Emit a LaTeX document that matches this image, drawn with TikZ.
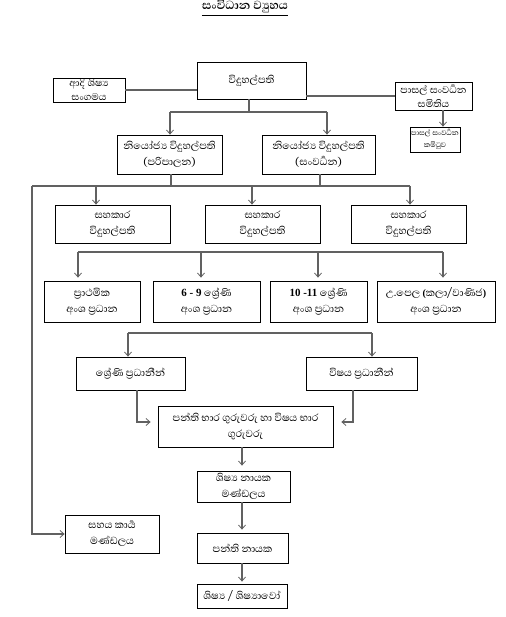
\documentclass[tikz,border=0pt]{standalone}
\usepackage{fontspec}
\setmainfont{Liberation Serif}
\newfontfamily\sinhalafont[Script=Sinhala]{Abhaya Libre}
\usetikzlibrary{arrows.meta}
\begin{document}
\begin{tikzpicture}[x=1pt,y=-1pt,
  box/.style={draw=black,line width=0.8pt,align=center,inner sep=0pt,
    font=\sinhalafont\fontsize{13}{16}\selectfont},
  small/.style={box,font=\sinhalafont\fontsize{12.5}{14}\selectfont},
  tiny/.style={box,font=\sinhalafont\fontsize{9}{12}\selectfont},
  conn/.style={draw=black!62,line width=1.1pt},
  arr/.style={conn,-{Straight Barb[length=4pt,width=7pt,line width=0.8pt]}}]
\useasboundingbox (0,0) rectangle (505,617);

\node[font=\sinhalafont\bfseries\fontsize{15}{17}\selectfont,anchor=base,inner sep=0pt] (title) at (245,10) {\underline{සංවිධාන ව්^^^^200dයුහය}};

\node[box,minimum width=109pt,minimum height=37pt] (P) at (251.5,80.5) {විදුහල්පති};
\node[small,minimum width=72pt,minimum height=24pt] (alu) at (89,90) {ආදි ශිෂ්^^^^200dය\\සංගමය};
\node[small,minimum width=77pt,minimum height=28pt] (sds) at (433.5,96) {පාසල් සංවර්^^^^200dධන\\සමිතිය};
\node[tiny,minimum width=50pt,minimum height=25pt] (sdc) at (435,139.5) {පාසල් සංවර්^^^^200dධන\\කමිටුව};

\node[box,minimum width=105pt,minimum height=39pt] (dep1) at (169.5,154.5) {නියෝජ්^^^^200dය විදුහල්පති\\(පරිපාලන)};
\node[box,minimum width=113pt,minimum height=39pt] (dep2) at (318.5,154.5) {නියෝජ්^^^^200dය විදුහල්පති\\(සංවර්^^^^200dධන)};

\node[box,minimum width=115pt,minimum height=38pt] (sah1) at (112.5,224) {සහකාර\\විදුහල්පති};
\node[box,minimum width=115pt,minimum height=38pt] (sah2) at (262.5,224) {සහකාර\\විදුහල්පති};
\node[box,minimum width=115pt,minimum height=38pt] (sah3) at (408.5,224) {සහකාර\\විදුහල්පති};

\node[box,minimum width=96pt,minimum height=41pt] (sec1) at (92,301.5) {ප්^^^^200dරාථමික\\අංශ ප්^^^^200dරධාන};
\node[box,minimum width=107pt,minimum height=41pt] (sec2) at (206.5,301.5) {{\rmfamily\bfseries\fontsize{11}{12}\selectfont 6 - 9} ශ්^^^^200dරේණි\\අංශ ප්^^^^200dරධාන};
\node[box,minimum width=97pt,minimum height=41pt] (sec3) at (318.5,301.5) {{\rmfamily\bfseries\fontsize{11}{12}\selectfont 10 -11} ශ්^^^^200dරේණි\\අංශ ප්^^^^200dරධාන};
\node[box,minimum width=118pt,minimum height=41pt] (sec4) at (436,301.5) {උ.පෙල {\rmfamily\bfseries\fontsize{10}{12}\selectfont (}කලා/වාණිජ{\rmfamily\bfseries\fontsize{10}{12}\selectfont )}\\අංශ ප්^^^^200dරධාන};

\node[box,minimum width=109pt,minimum height=33pt] (gh) at (130.5,373.5) {ශ්^^^^200dරේණි ප්^^^^200dරධානීන්};
\node[box,minimum width=111pt,minimum height=33pt] (sh) at (361.5,373.5) {විෂය ප්^^^^200dරධානීන්};
\node[box,minimum width=175pt,minimum height=41pt] (ct) at (245.5,426.5) {පන්ති භාර ගුරුවරු හා විෂය භාර\\ගුරුවරු};

\node[box,minimum width=93pt,minimum height=31pt] (pref) at (243.5,486.5) {ශිෂ්^^^^200dය නායක\\මණ්ඩලය};
\node[box,minimum width=91pt,minimum height=30pt] (cm) at (242.5,548) {පන්ති නායක};
\node[box,minimum width=90pt,minimum height=24pt] (st) at (242,596) {ශිෂ්^^^^200dය / ශිෂ්^^^^200dයාවෝ};
\node[box,minimum width=94pt,minimum height=38pt] (sup) at (112,534) {සහය කාර්^^^^200dය\\මණ්ඩලය};

% top connectors
\draw[conn] (alu.east) -- (alu.east -| P.west);
\draw[conn] (sds.west -| P.east) -- (sds.west);
\coordinate (q) at (443,0);
\draw[arr] (q |- sds.south) -- (q |- sdc.north);

\coordinate (j1) at (249,112);
\coordinate (j1l) at (170,112);
\coordinate (j1r) at (327,112);
\draw[conn] (j1 |- P.south) -- (j1);
\draw[conn] (j1l) -- (j1r);
\draw[arr] (j1l) -- (j1l |- dep1.north);
\draw[arr] (j1r) -- (j1r |- dep2.north);

% deputies to assistants
\coordinate (b1) at (171,186);
\coordinate (b2) at (320,186);
\coordinate (hl) at (32,186);
\coordinate (hr) at (410,186);
\coordinate (s1) at (96,186);
\coordinate (s2) at (252,186);
\draw[conn] (b1 |- dep1.south) -- (b1);
\draw[conn] (b2 |- dep2.south) -- (b2);
\draw[conn] (hl) -- (hr);
\draw[arr] (s1) -- (s1 |- sah1.north);
\draw[arr] (s2) -- (s2 |- sah2.north);
\draw[arr] (hr) -- (hr |- sah3.north);
\draw[arr] (hl) |- (sup.west);

% sections
\coordinate (f1) at (78,252);
\coordinate (f2) at (201,252);
\coordinate (f3) at (318,252);
\coordinate (f4) at (443,252);
\draw[conn] (f1) -- (f4);
\draw[arr,shorten >=3pt] (f1) -- (f1 |- sec1.north);
\draw[arr,shorten >=3pt] (f2) -- (f2 |- sec2.north);
\draw[arr,shorten >=3pt] (f3) -- (f3 |- sec3.north);
\draw[arr,shorten >=3pt] (f4) -- (f4 |- sec4.north);

% heads
\coordinate (g1) at (128,333);
\coordinate (g2) at (372,333);
\draw[conn] (g1) -- (g2);
\draw[arr] (g1) -- (g1 |- gh.north);
\draw[arr] (g2) -- (g2 |- sh.north);

\coordinate (k1) at (137,422);
\coordinate (k2) at (353,422);
\draw[arr,shorten >=7pt] (k1 |- gh.south) -- (k1) -- (k1 -| ct.west);
\draw[arr,shorten >=8pt] (k2 |- sh.south) -- (k2) -- (k2 -| ct.east);

% bottom chain
\coordinate (m) at (242,0);
\draw[arr,shorten >=5pt] (m |- ct.south) -- (m |- pref.north);
\draw[arr,shorten >=3pt] (m |- pref.south) -- (m |- cm.north);
\draw[arr,shorten >=2pt] (m |- cm.south) -- (m |- st.north);
\end{tikzpicture}
\end{document}
